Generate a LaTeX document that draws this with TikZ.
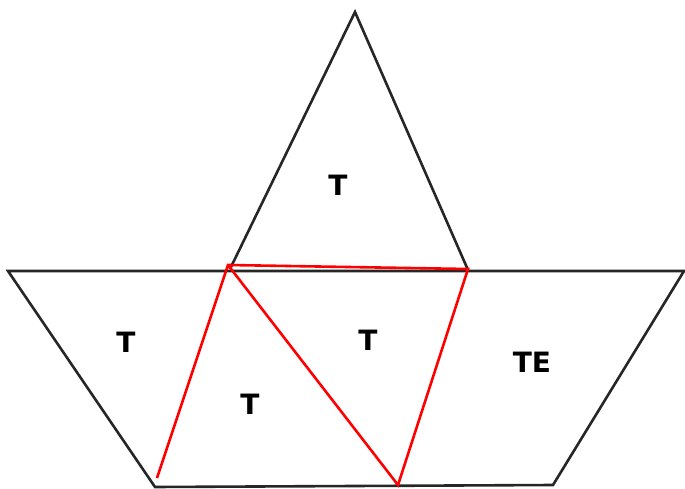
\documentclass[tikz,border=0pt]{standalone}
\usepackage{fontspec}
\setmainfont{DejaVu Sans}
\begin{document}
\begin{tikzpicture}[x=1pt,y=-1pt,
  edge/.style={draw=black!85,line width=2.6pt,line join=miter},
  rededge/.style={draw=red,line width=2.6pt,line join=miter},
  lbl/.style={font=\bfseries\fontsize{28}{28}\selectfont,inner sep=0pt}]
\useasboundingbox (0,0) rectangle (685,489);
\coordinate (apex) at (355,12);
\coordinate (bl) at (230,269);
\coordinate (br) at (468,270);
\coordinate (tl) at (8,271);
\coordinate (tr) at (684,271);
\coordinate (lb) at (155,487);
\coordinate (rb) at (553,485);
\coordinate (r1) at (228,265);
\coordinate (r2) at (157,478);
\coordinate (r3) at (398,485);
\coordinate (r4) at (468,269);
\draw[edge] (bl) -- (apex) -- (br);
\draw[edge] (lb) -- (tl) -- (tr) -- (rb) -- cycle;
\draw[rededge] (r2) -- (r1) -- (r4) -- (r3) -- (r1);
\node[lbl] (t1) at (338,185) {T};
\node[lbl] (t2) at (126,342) {T};
\node[lbl] (t3) at (368,340) {T};
\node[lbl] (t4) at (250,404) {T};
\node[lbl] (t5) at (532,362) {TE};
\end{tikzpicture}
\end{document}
